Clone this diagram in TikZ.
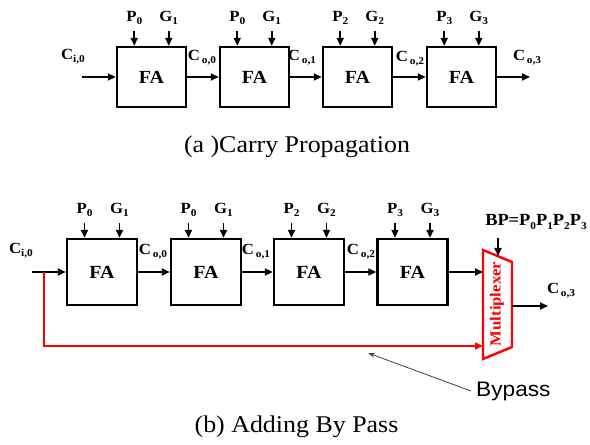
\documentclass[tikz,border=0pt]{standalone}
\usepackage{fontspec}
\setmainfont{Liberation Serif}[FakeStretch=1.08]
\newfontfamily\labelsans{Liberation Sans}[FakeStretch=1.08]
\usetikzlibrary{arrows.meta}

% signal name with a lowered, smaller index
\newcommand{\sig}[2]{#1\raisebox{-0.45ex}{\fontsize{10.5bp}{10.5bp}\selectfont #2}}

\begin{document}
\begin{tikzpicture}[x=1bp,y=-1bp,
  fa/.style={draw, line width=2.4bp, inner sep=0pt,
    font=\fontsize{18.5bp}{20bp}\selectfont\bfseries},
  lbl/.style={inner sep=0pt, font=\fontsize{15.5bp}{17bp}\selectfont\bfseries},
  sigarrow/.style={line width=1.8bp, -{Triangle[length=8bp,width=7bp]}},
  caption/.style={inner sep=0pt, font=\fontsize{24bp}{26bp}\selectfont},
  bypassline/.style={red, line width=1.4bp, -{Triangle[length=8bp,width=7bp]}},
  muxshape/.style={red, line width=2.4bp, line join=miter},
  pointer/.style={draw=black!75, line width=0.8bp, -{Stealth[length=7bp,width=4.5bp]}}
]
\useasboundingbox (0,0) rectangle (590,445);

% ---------------- (a) ripple carry chain ----------------
\foreach \i/\p/\g/\x in {1/0/1/151.5, 2/0/1/254.5, 3/2/2/357.5, 4/3/3/461.5} {
  \node[fa, minimum width=69bp, minimum height=60bp] (a\i) at (\x,77) {FA};
  \coordinate (ap\i) at (\x-17.25,31);
  \coordinate (ag\i) at (\x+17.25,31);
  \node[lbl] at (\x-17.25,18) {\sig{P}{\p}};
  \node[lbl] at (\x+17.25,18) {\sig{G}{\g}};
  \draw[sigarrow] (ap\i) -- (ap\i |- a\i.north);
  \draw[sigarrow] (ag\i) -- (ag\i |- a\i.north);
}
\coordinate (ain) at (82,77);
\coordinate (aout) at (530,77);
\draw[sigarrow] (ain) -- (a1.west);
\draw[sigarrow] (a1.east) -- (a2.west);
\draw[sigarrow] (a2.east) -- (a3.west);
\draw[sigarrow] (a3.east) -- (a4.west);
\draw[sigarrow] (a4.east) -- (aout);

\node[lbl] (aci)  at (73,57)  {\sig{C}{i,0}};
\node[lbl] (aco0) at (202,58) {\sig{C}{\,o,0}};
\node[lbl] (aco1) at (302,58) {\sig{C}{\,o,1}};
\node[lbl] (aco2) at (410,59) {\sig{C}{\,o,2}};
\node[lbl] (aco3) at (527,58) {\sig{C}{\,o,3}};

\node[caption] (capa) at (297,147) {(a )Carry Propagation};

% ---------------- (b) carry bypass ----------------
\foreach \i/\p/\g/\x in {1/0/1/102, 2/0/1/206, 3/2/2/309, 4/3/3/412.5} {
  \node[fa, minimum width=70bp, minimum height=66bp] (b\i) at (\x,272) {FA};
  \coordinate (bp\i) at (\x-17.5,223);
  \coordinate (bg\i) at (\x+17.5,223);
  \node[lbl] at (\x-17.5,210) {\sig{P}{\p}};
  \node[lbl] at (\x+17.5,210) {\sig{G}{\g}};
  \draw[sigarrow] (bp\i) -- (bp\i |- b\i.north);
  \draw[sigarrow] (bg\i) -- (bg\i |- b\i.north);
}

% multiplexer outline
\coordinate (mtl) at (483,250);
\coordinate (mtr) at (512,262);
\coordinate (mbr) at (512,347);
\coordinate (mbl) at (483,359);
\draw[muxshape] (mtl) -- (mtr) -- (mbr) -- (mbl) -- cycle;
\node[inner sep=0pt, text=red, rotate=90,
  font=\fontsize{15.5bp}{17bp}\selectfont\bfseries] (mux) at (497,304) {Multiplexer};

\coordinate (bin)   at (32,272);
\coordinate (btap)  at (44,272);
\coordinate (muxa)  at (483,272);
\coordinate (muxb)  at (483,346);
\coordinate (muxo)  at (512,306);
\coordinate (bout)  at (548,306);
\coordinate (bpsrc) at (498,238);
\coordinate (bpdst) at (498,256);

\draw[sigarrow] (bin) -- (b1.west);
\draw[sigarrow] (b1.east) -- (b2.west);
\draw[sigarrow] (b2.east) -- (b3.west);
\draw[sigarrow] (b3.east) -- (b4.west);
\draw[sigarrow] (b4.east) -- (muxa);
\draw[sigarrow] (muxo) -- (bout);
\draw[sigarrow] (bpsrc) -- (bpdst);
\draw[bypassline] (btap) |- (muxb);

\node[lbl] (bci)  at (21,251)  {\sig{C}{i,0}};
\node[lbl] (bco0) at (153,252) {\sig{C}{\,o,0}};
\node[lbl] (bco1) at (256,252) {\sig{C}{\,o,1}};
\node[lbl] (bco2) at (361,252) {\sig{C}{\,o,2}};
\node[lbl] (bco3) at (561,291) {\sig{C}{\,o,3}};
\node[lbl, font=\fontsize{17bp}{19bp}\selectfont\bfseries] (bpeq) at (536,222)
  {BP=\sig{P}{0}\sig{P}{1}\sig{P}{2}\sig{P}{3}};

\coordinate (ptip) at (368,353);
\node[inner sep=0pt, anchor=west, font=\fontsize{21bp}{23bp}\selectfont\labelsans] (bypass) at (476,391) {Bypass};
\draw[pointer] ([xshift=-5bp]bypass.west) -- (ptip);

\node[caption] (capb) at (296.5,427) {(b) Adding By Pass};
\end{tikzpicture}
\end{document}
